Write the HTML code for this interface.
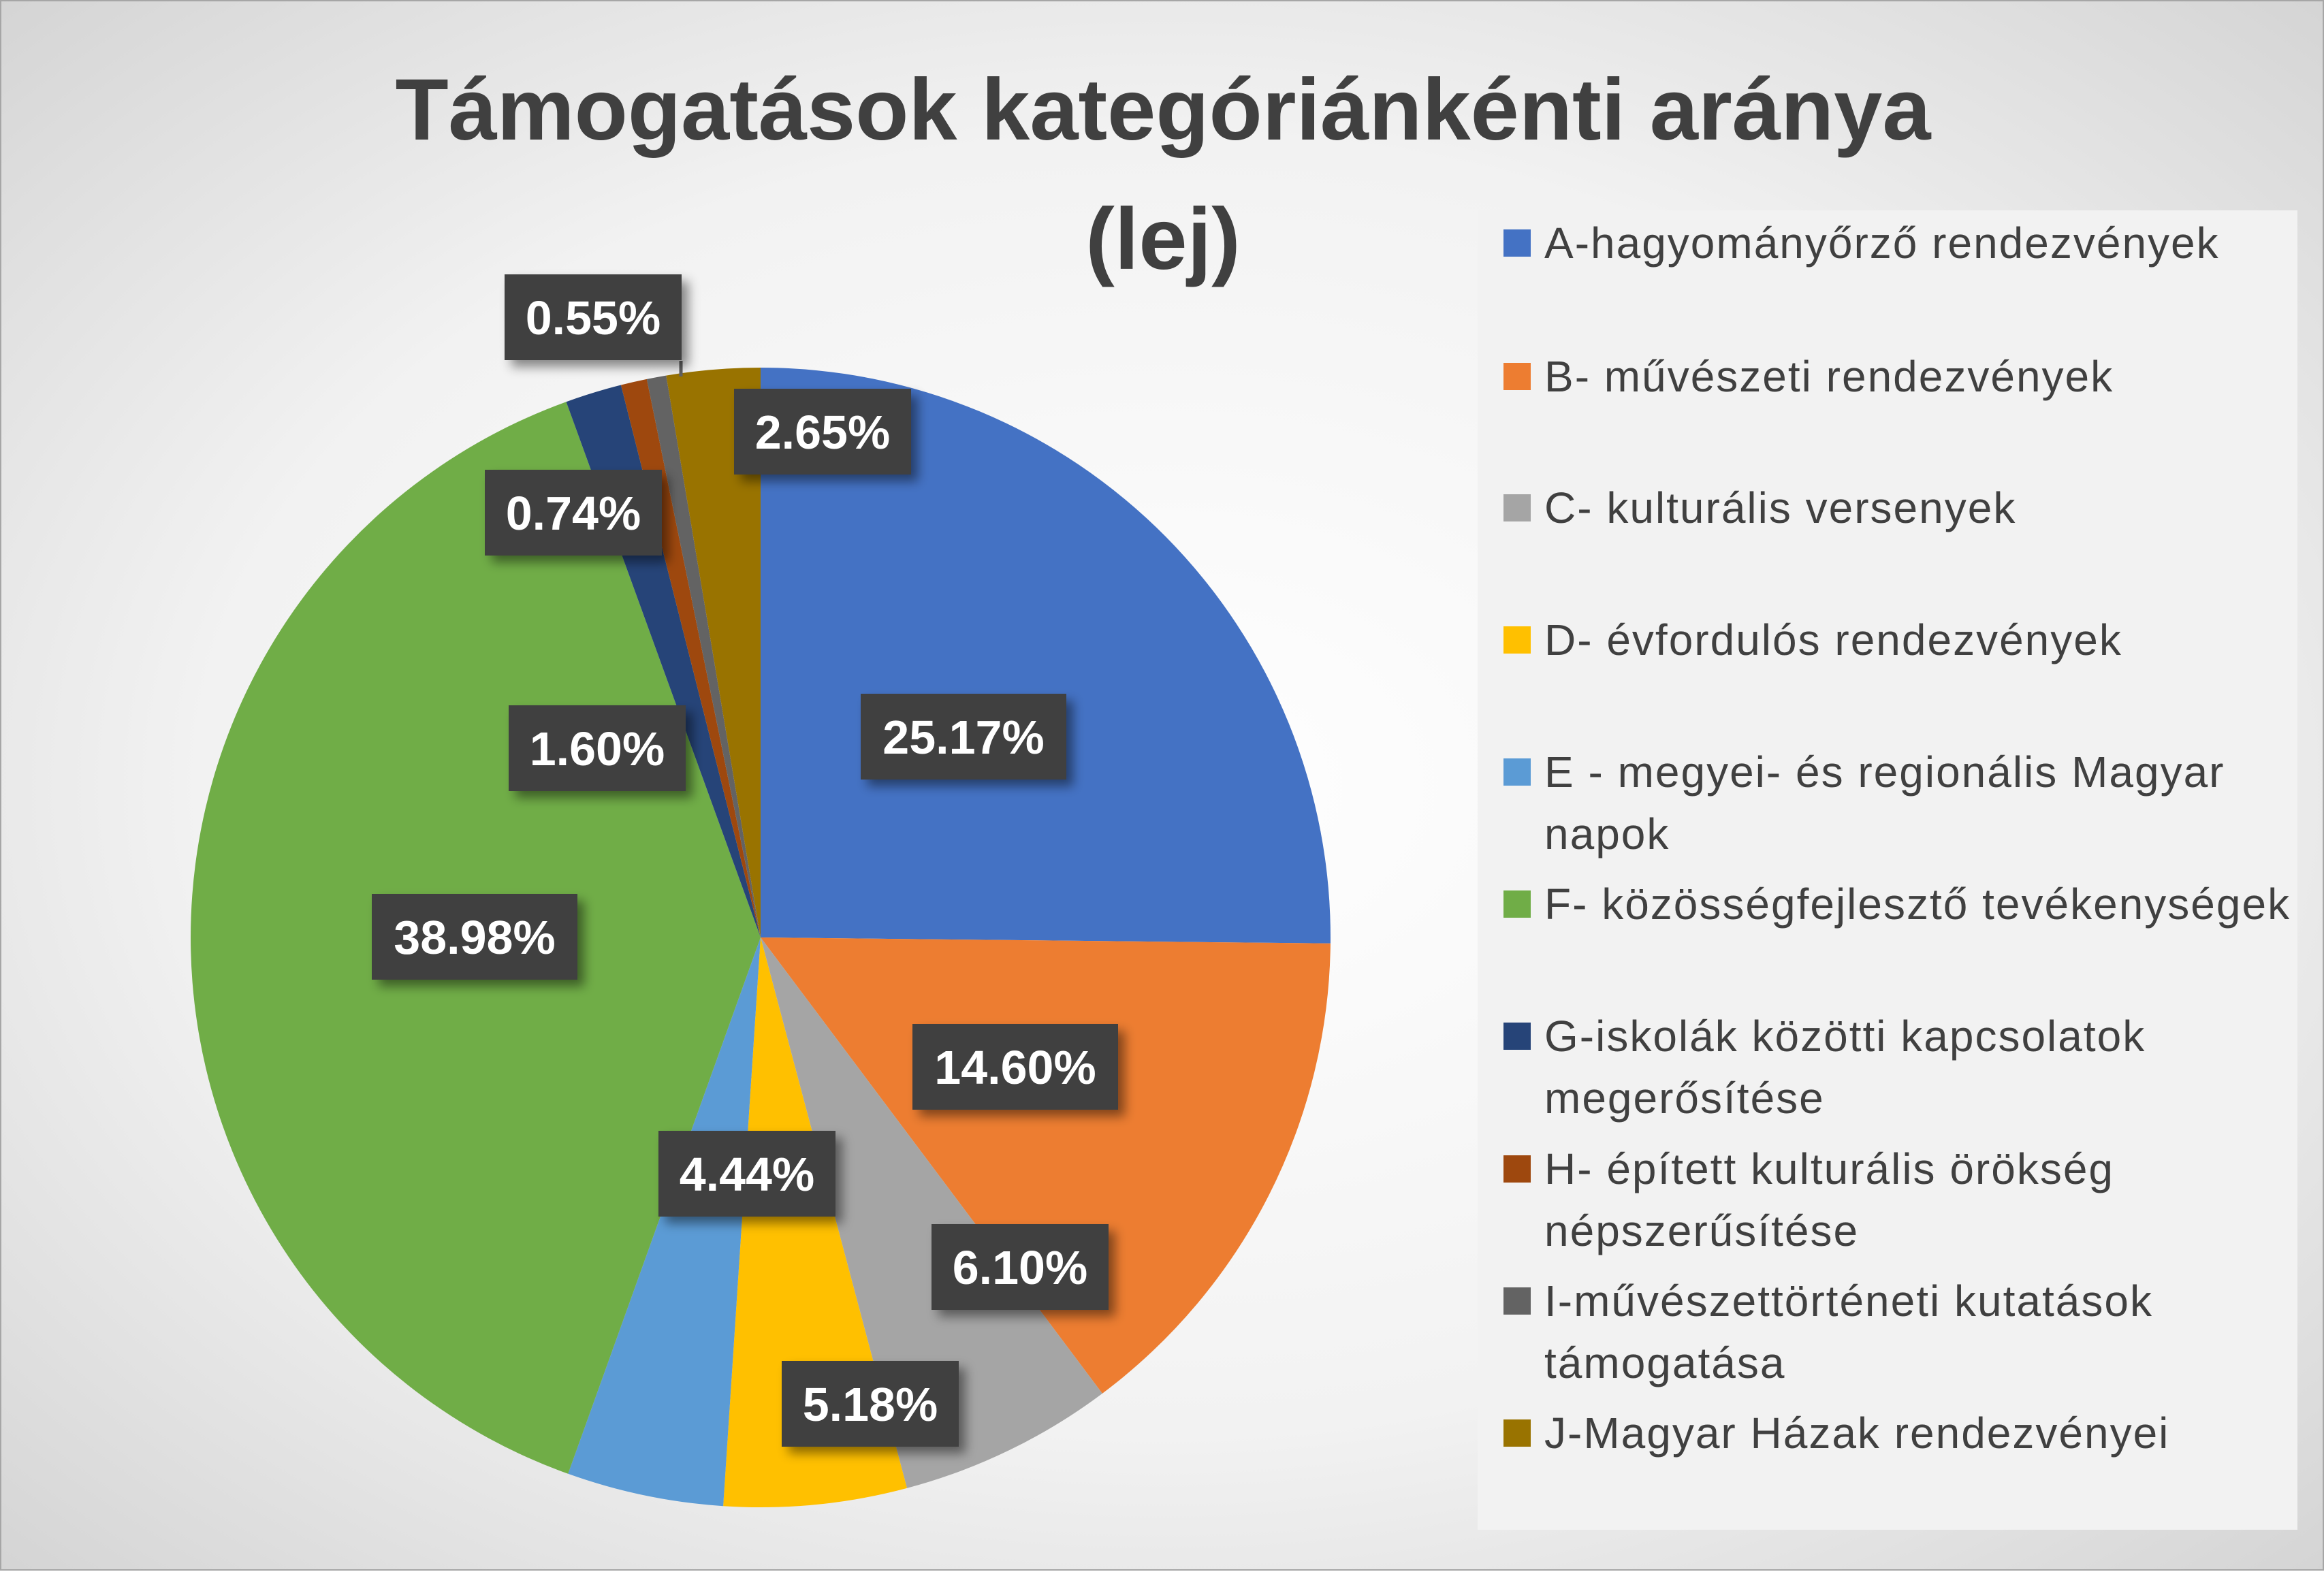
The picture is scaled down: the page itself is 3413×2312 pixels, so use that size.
<!DOCTYPE html>
<html><head><meta charset="utf-8"><style>
html,body{margin:0;padding:0;}
body{width:3413px;height:2307px;overflow:hidden;font-family:"Liberation Sans",sans-serif;}
</style></head><body>
<svg id="chart" width="3413" height="2307" viewBox="0 0 3413 2307" xmlns="http://www.w3.org/2000/svg">
<defs>
<radialGradient id="bg" cx="50%" cy="50%" r="75%">
<stop offset="0" stop-color="#ffffff"/><stop offset="0.55" stop-color="#f2f2f2"/><stop offset="1" stop-color="#d0d0d0"/>
</radialGradient>
<filter id="sh" x="-20%" y="-20%" width="150%" height="150%"><feDropShadow dx="10" dy="10" stdDeviation="8" flood-color="#000" flood-opacity="0.45"/></filter>
</defs>
<rect x="0" y="0" width="3413" height="2307" fill="url(#bg)" stroke="#a6a6a6" stroke-width="4"/>
<text x="1708" y="205" text-anchor="middle" font-size="128" font-weight="bold" fill="#404040">Támogatások kategóriánkénti aránya</text>
<text x="1708" y="395" text-anchor="middle" font-size="128" font-weight="bold" fill="#404040">(lej)</text>
<rect x="2170" y="309" width="1204" height="1938" fill="#f2f2f2"/>
<g id="slices"></g>
<g id="labels"></g>
<g id="legend"></g>
</svg>
<script>
const categories=["A-hagyományőrző rendezvények","B- művészeti rendezvények","C- kulturális versenyek","D- évfordulós rendezvények","E - megyei- és regionális Magyar napok","F- közösségfejlesztő tevékenységek","G-iskolák közötti kapcsolatok megerősítése","H- épített kulturális örökség népszerűsítése","I-művészettörténeti kutatások támogatása","J-Magyar Házak  rendezvényei"];
const values=[25.17,14.60,6.10,5.18,4.44,38.98,1.60,0.74,0.55,2.65];
const colors=["#4472C4","#ED7D31","#A5A5A5","#FFC000","#5B9BD5","#70AD47","#264478","#9E480E","#636363","#997300"];
const legendLines=[["A-hagyományőrző rendezvények"],["B- művészeti rendezvények"],["C- kulturális versenyek"],["D- évfordulós rendezvények"],["E - megyei- és regionális Magyar","napok"],["F- közösségfejlesztő tevékenységek"],["G-iskolák közötti kapcsolatok","megerősítése"],["H- épített kulturális örökség","népszerűsítése"],["I-művészettörténeti kutatások","támogatása"],["J-Magyar Házak  rendezvényei"]];
const labelLayout=[[1415,1082],[1491,1567],[1498,1861],[1278,2062],[1097,1724],[697,1376],[877,1099],[842,753],[871,466],[1208,634]];
const NS="http://www.w3.org/2000/svg";
const cx=1117,cy=1377,r=837;
const total=values.reduce((a,b)=>a+b,0);
function pt(f,rad){const a=f*2*Math.PI;return [cx+rad*Math.sin(a),cy-rad*Math.cos(a)];}
const gS=document.getElementById('slices');
let acc=0;
values.forEach((v,i)=>{
  const f0=acc/total,f1=(acc+v)/total;acc+=v;
  const p0=pt(f0,r),p1=pt(f1,r);
  const large=(f1-f0)>0.5?1:0;
  const p=document.createElementNS(NS,'path');
  p.setAttribute('d',`M${cx},${cy} L${p0[0]},${p0[1]} A${r},${r} 0 ${large} 1 ${p1[0]},${p1[1]} Z`);
  p.setAttribute('fill',colors[i]);
  
  
  gS.appendChild(p);
});
{const l=document.createElementNS(NS,'line');
 l.setAttribute('x1',1000);l.setAttribute('y1',530);l.setAttribute('x2',1000);l.setAttribute('y2',553);
 l.setAttribute('stroke','#636363');l.setAttribute('stroke-width','5');
 
 
 document.getElementById('labels').appendChild(l);}
const gL=document.getElementById('labels');
values.forEach((v,i)=>{
  const txt=v.toFixed(2)+'%';
  const w=txt.length>5?302:260,h=126;
  const [x,y]=labelLayout[i];
  const g=document.createElementNS(NS,'g');
  
  
  const rc=document.createElementNS(NS,'rect');
  rc.setAttribute('x',x-w/2);rc.setAttribute('y',y-h/2);rc.setAttribute('width',w);rc.setAttribute('height',h);
  rc.setAttribute('fill','#404040');rc.setAttribute('filter','url(#sh)');
  g.appendChild(rc);
  const t=document.createElementNS(NS,'text');
  t.setAttribute('x',x);t.setAttribute('y',y+25);t.setAttribute('text-anchor','middle');
  t.setAttribute('font-size','70');t.setAttribute('font-weight','bold');t.setAttribute('fill','#ffffff');
  t.textContent=txt;
  g.appendChild(t);
  gL.appendChild(g);
});
const gG=document.getElementById('legend');
const legY=[357,553,746,940,1134,1328,1522,1717,1911,2105];
legendLines.forEach((lines,i)=>{
  const g=document.createElementNS(NS,'g');
  
  
  const s=document.createElementNS(NS,'rect');
  s.setAttribute('x',2208);s.setAttribute('y',legY[i]-20);s.setAttribute('width',40);s.setAttribute('height',40);
  s.setAttribute('fill',colors[i]);
  g.appendChild(s);
  lines.forEach((ln,j)=>{
    const t=document.createElementNS(NS,'text');
    t.setAttribute('x',2268);t.setAttribute('y',legY[i]+22+j*91);
    t.setAttribute('font-size','64');t.setAttribute('letter-spacing','2');t.setAttribute('fill','#404040');
    t.textContent=ln;
    g.appendChild(t);
  });
  gG.appendChild(g);
});
</script>
</body></html>
